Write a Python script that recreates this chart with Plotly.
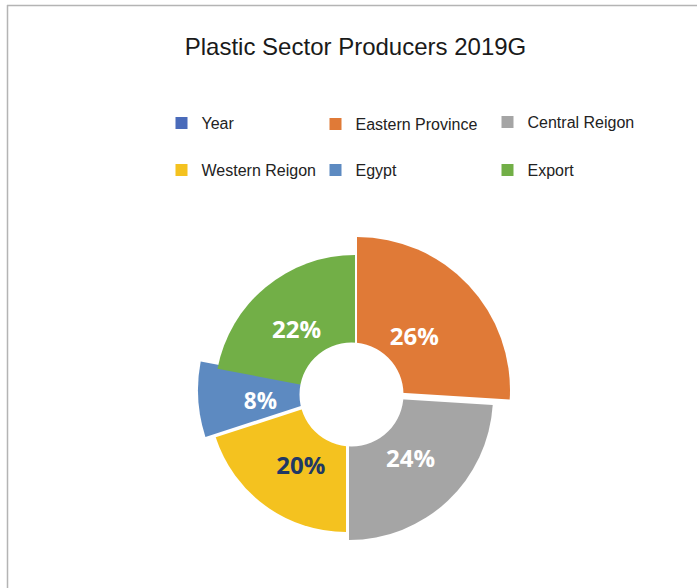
import plotly.graph_objects as go

# ---------------- data ----------------
labels = ["Year", "Eastern Province", "Central Reigon", "Western Reigon", "Egypt", "Export"]
values = [0, 26, 24, 20, 8, 22]
title_text = "Plastic Sector Producers 2019G"

# ---------------- styles ----------------
W, H = 697, 588
colors = {
    "Year": "#4A6BBA",
    "Eastern Province": "#E07A37",
    "Central Reigon": "#A5A5A5",
    "Western Reigon": "#F4C21F",
    "Egypt": "#5D8AC1",
    "Export": "#72AF47",
}
label_colors = {
    "Eastern Province": "white",
    "Central Reigon": "white",
    "Western Reigon": "#203864",
    "Egypt": "white",
    "Export": "white",
}
TRANSPARENT = "rgba(0,0,0,0)"
# per-slice centre (px) and outer radius (px) to mimic exploded / uneven slices
geom = {
    "Eastern Province": (357, 390, 153),
    "Central Reigon": (349, 396, 144),
    "Western Reigon": (346, 395, 137),
    "Egypt": (350, 390, 152),
    "Export": (355, 395, 140),
}
CX, CY, HOLE_R = 351.5, 394.5, 52
legend_pos = {
    "Year": (182, 123),
    "Eastern Province": (336, 124),
    "Central Reigon": (508, 122),
    "Western Reigon": (182, 170),
    "Egypt": (336, 170),
    "Export": (508, 170),
}


def dom(cx, cy, r):
    return dict(x=[(cx - r) / W, (cx + r) / W], y=[1 - (cy + r) / H, 1 - (cy - r) / H])


fig = go.Figure()

# legend-only traces (one legend each, positioned individually); hidden under the hole
for i, lab in enumerate(labels):
    lname = "legend" if i == 0 else f"legend{i + 1}"
    fig.add_trace(go.Pie(
        labels=[lab], sort=False,
        marker=dict(colors=[colors[lab]], line=dict(width=0)),
        textinfo="none", hoverinfo="skip", showlegend=True,
        legend=lname, domain=dom(CX, CY, 1),
    ))

# one trace per visible slice
for lab, (cx, cy, r) in geom.items():
    cols = [colors[l] if l == lab else TRANSPARENT for l in labels]
    fig.add_trace(go.Pie(
        labels=labels, values=values, sort=False, direction="clockwise", rotation=0,
        marker=dict(colors=cols, line=dict(width=0)),
        textinfo="none", hoverinfo="skip", showlegend=False,
        domain=dom(cx, cy, r),
    ))

# label traces (transparent) for percentage text
def label_trace(which, r, hole):
    tt = ["%{percent:.0%}" if l in which else "" for l in labels]
    fc = [label_colors.get(l, "white") for l in labels]
    return go.Pie(
        labels=labels, values=values, sort=False, direction="clockwise", rotation=0,
        hole=hole,
        marker=dict(colors=[TRANSPARENT] * len(labels), line=dict(width=0)),
        texttemplate=tt, textposition="inside", insidetextorientation="horizontal",
        textfont=dict(family="Open Sans", size=24, color=fc, weight="bold"),
        hoverinfo="skip", showlegend=False, domain=dom(CX, CY, r),
    )

fig.add_trace(label_trace(["Eastern Province", "Central Reigon", "Western Reigon", "Export"], 124, 0.39))
fig.add_trace(label_trace(["Egypt"], 114, 0.39))

layout_legends = {}
for i, lab in enumerate(labels):
    lname = "legend" if i == 0 else f"legend{i + 1}"
    sx, sy = legend_pos[lab]
    layout_legends[lname] = dict(
        x=(sx - 20.5) / W, y=1 - sy / H, xanchor="left", yanchor="middle",
        bgcolor="rgba(0,0,0,0)", borderwidth=0,
        font=dict(family="Liberation Sans, Arial", size=16, color="#222222"),
    )

fig.update_layout(
    width=W, height=H, margin=dict(l=0, r=0, t=0, b=0),
    paper_bgcolor="white", plot_bgcolor="white",
    title=dict(text=title_text, x=355.5 / W, xanchor="center", y=1 - 47 / H, yanchor="middle",
               font=dict(family="Liberation Sans, Arial", size=24, color="#1a1a1a")),
    shapes=[
        dict(type="circle", xref="paper", yref="paper", layer="above",
             x0=(CX - HOLE_R) / W, x1=(CX + HOLE_R) / W,
             y0=1 - (CY + HOLE_R) / H, y1=1 - (CY - HOLE_R) / H,
             fillcolor="white", line=dict(width=0)),
        dict(type="line", xref="paper", yref="paper", x0=7 / W, x1=1, y0=1 - 5.5 / H, y1=1 - 5.5 / H,
             line=dict(color="#B4B4B4", width=1.5)),
        dict(type="line", xref="paper", yref="paper", x0=7.5 / W, x1=7.5 / W, y0=0, y1=1 - 5 / H,
             line=dict(color="#B4B4B4", width=1.5)),
    ],
    **layout_legends,
)

fig.write_html("out.html")
